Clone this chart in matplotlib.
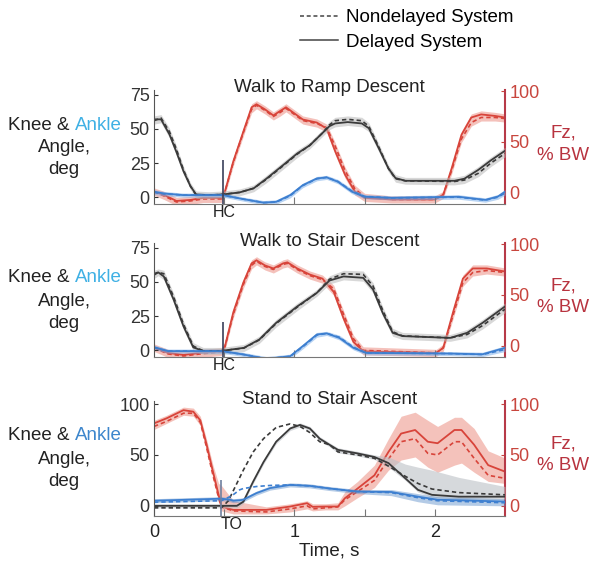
import matplotlib.pyplot as plt
import numpy as np

plt.rcParams['font.family'] = ['Liberation Sans', 'DejaVu Sans']

W, H = 604, 572

# ---- Walk to Ramp Descent ----
t_knee1 = [0, 0.05, 0.11, 0.16, 0.21, 0.26, 0.30, 0.39, 0.49, 0.61, 0.71, 0.80, 0.92, 1.02, 1.11,
           1.20, 1.25, 1.29, 1.38, 1.48, 1.53, 1.60, 1.67, 1.72, 1.79, 2.14, 2.21, 2.31, 2.40, 2.50]
knee1 = [57, 57, 46, 33, 19, 8, 2, 1.5, 2, 3.5, 6.5, 13.5, 23.5, 32, 38,
         47, 52, 54, 55, 54, 50.5, 36, 21, 14, 12, 12, 13.5, 20, 27, 34]
knee1_nd = [56, 58, 48, 35, 20, 8, 1.5, 1.5, 2, 3.5, 6.5, 13, 23, 31.5, 38,
            47, 53, 56, 57, 56, 52, 37, 21, 13.5, 12, 11.5, 12.5, 17.5, 25, 32]

t_ank1 = [0, 0.07, 0.21, 0.49, 0.64, 0.78, 0.87, 0.97, 1.06, 1.16, 1.23, 1.31, 1.41, 1.50, 1.69,
          2.17, 2.36, 2.45, 2.50]
ank1 = [4, 2.7, 1.5, 1.5, -1.5, -4, -3.4, 1.5, 8.8, 13.7, 14.5, 11.3, 4, 0.3, -0.5, 0.3, -2, 0.5, 4]
ank1_nd = [3.5, 2.5, 1.5, 1.5, -1.5, -4, -3.6, 1, 8.5, 13.5, 14.5, 11.5, 4.5, 0.5, -0.5, 0, -2.2, 0, 3]

t_fz1 = [0, 0.07, 0.16, 0.26, 0.35, 0.48, 0.505, 0.565, 0.636, 0.695, 0.73, 0.79, 0.85, 0.90, 0.94,
         0.99, 1.06, 1.16, 1.23, 1.29, 1.36, 1.43, 1.50, 1.69, 2.00, 2.06, 2.12, 2.19, 2.26, 2.33,
         2.43, 2.50]
fz1 = [1.3, -2, -8, -7, -5, -5, 1.3, 31, 60, 84, 87, 82, 76, 80.5, 84,
       79, 72, 69, 63, 41, 18, 1.3, -5, -6.5, -6.5, -2, 24, 57, 74, 77, 75.5, 74]
fz1_nd = [1, -3, -9, -8, -6, -6, 1, 30, 59, 82, 86, 81, 75, 79, 83,
          78, 71, 68, 64, 46, 22, 4, -4, -6.5, -6.5, -2, 22, 53, 69, 74, 74, 73]

# ---- Walk to Stair Descent ----
t_knee2 = [0, 0.03, 0.07, 0.14, 0.21, 0.28, 0.35, 0.48, 0.64, 0.75, 0.87, 1.02, 1.16, 1.25, 1.35,
           1.49, 1.56, 1.63, 1.70, 1.77, 2.11, 2.23, 2.34, 2.50]
knee2 = [56, 57, 54, 37, 17.5, 2, -0.5, -0.5, 1.7, 7.8, 20, 32, 42, 51, 54,
         53, 44.5, 27, 12.7, 10.3, 9, 12.7, 20, 32]
knee2_nd = [55, 57, 56, 39, 19, 3, -0.5, -0.5, 1.5, 7.5, 19.5, 31.5, 42, 52, 56,
            55.5, 47, 29, 13.5, 10.5, 9, 11.5, 18, 30]

t_ank2 = [0, 0.10, 0.48, 0.64, 0.80, 0.97, 1.06, 1.16, 1.23, 1.32, 1.42, 1.51, 2.11, 2.34, 2.50]
ank2 = [2.2, -0.7, -0.7, -3.2, -6.4, -4.4, 3, 11.5, 12.3, 9, 1.7, -2, -2.5, -3, 1.7]
ank2_nd = [2, -0.7, -0.7, -3.2, -6.2, -4.6, 2.5, 11, 12.3, 9.5, 2.2, -2, -2.5, -3.2, 0.5]

t_fz2 = [0, 0.10, 0.21, 0.33, 0.48, 0.505, 0.565, 0.636, 0.695, 0.73, 0.79, 0.85, 0.92, 0.95,
         1.02, 1.11, 1.20, 1.28, 1.35, 1.42, 1.49, 2.01, 2.06, 2.13, 2.20, 2.27, 2.37, 2.50]
fz2 = [-1.6, -7, -9, -7, -5.5, -0.7, 33, 62, 81, 84, 79, 76, 81, 82,
       76, 70, 66, 53, 27, 4, -5.5, -7, -2, 33, 66, 76, 76, 73]
fz2_nd = [-2, -8, -10, -8, -6, -1, 31, 60, 79, 83, 78, 75, 80, 81,
          75, 69, 65, 56, 31, 7, -4.5, -7, -2, 30, 62, 72, 74, 72]

# ---- Stand to Stair Ascent ----
t_knee3 = [0, 0.48, 0.53, 0.59, 0.636, 0.707, 0.78, 0.87, 0.97, 1.04, 1.11, 1.18, 1.25, 1.31,
           1.45, 1.57, 1.67, 1.79, 1.88, 1.98, 2.17, 2.50]
knee3 = [0, 0, 0, 0, 4, 24, 43, 63, 76, 79.5, 76, 66, 60, 55, 51.5, 48, 42, 27, 15.7, 10.8, 9, 9]
knee3_nd = [-2, -2, 5, 22, 35, 53, 66, 77, 80.5, 78, 72, 63, 60, 53, 50, 46.7, 39, 29, 22, 16.5, 13, 10.8]
knee3_lo = [-2, -2, -2, -2, 2, 22, 41, 61, 74, 77.5, 74, 64, 58, 52, 49, 45.5, 38, 25, 13.5, 8.5, 6.5, 6.5]
knee3_hi = [2, 2, 2, 2, 6, 26, 45, 65, 78, 81.5, 78, 68, 62, 57, 53.5, 50, 48, 41, 38, 35, 28, 19]

t_ank3 = [0, 0.48, 0.54, 0.565, 0.61, 0.636, 0.73, 0.826, 0.97, 1.11, 1.25, 1.45, 1.69, 1.88, 2.02, 2.50]
ank3 = [5, 7, 6, 5, 5.5, 6, 12.5, 17.4, 20.6, 19.6, 17, 14, 13.6, 9, 6, 4.2]
ank3_nd = [3.6, 5, 9, 11, 15.7, 17, 19, 20, 20.6, 19.6, 17, 14, 13, 8, 5, 3]
ank3_lo = [3, 5, 4, 3, 3.5, 4, 10.5, 15.4, 18.6, 17.6, 15, 12, 10, 4, 1, 0]
ank3_hi = [7, 9, 8, 7, 7.5, 8, 14.5, 19.4, 22.6, 21.6, 19, 16, 16, 12, 9, 7]

t_fz3 = [0, 0.09, 0.21, 0.28, 0.33, 0.375, 0.42, 0.46, 0.48, 0.565, 0.80, 0.97, 1.09, 1.13, 1.22,
         1.31, 1.36, 1.45, 1.57, 1.67, 1.76, 1.86, 1.95, 2.02, 2.14, 2.19, 2.28, 2.38, 2.50]
fz3 = [81, 86, 94, 92.5, 84, 60, 33.6, 10.8, -0.7, -4, -4, -0.7, 2.6, -1, -0.7,
       -0.7, 7.5, 17, 30, 53, 71, 74.5, 63, 61.5, 74.5, 74.5, 60, 40, 33.6]
fz3_nd = [78, 83, 91, 91, 82, 57, 30, 8, -1, -5, -6, -3, 0, -3, -2,
          -1, 6, 14, 25, 46, 63, 66, 51.6, 50, 63, 63, 46.7, 30, 27]
fz3_lo = [75, 81, 89, 88, 79, 53, 27, 3, -5, -8, -8, -6, -3, -5, -4,
          -4, 0, 8, 18, 35, 45, 48, 38, 33, 40, 42, 33, 24, 22]
fz3_hi = [84, 89, 97, 96, 88, 65, 40, 22, 20, 5, -1, 2, 5, 2, 2,
          3, 14, 24, 40, 66, 88, 92, 84, 78, 87, 87, 76, 54, 47]

titles = ['Walk to Ramp Descent', 'Walk to Stair Descent', 'Stand to Stair Ascent']
event_labels = ['HC', 'HC', 'TO']

KNEE = '#3a3a3a'
ANK = '#3d7fd0'
FZ = '#d8443a'
FZ_TXT = '#b8333f'


def fx(px):
    return px / W


def fy(py):
    return 1 - py / H


def plot_signal(ax, t, d, nd, color, band, w=2.0, lo=None, hi=None, alpha=0.55):
    t = np.array(t)
    d = np.array(d, dtype=float)
    nd = np.array(nd, dtype=float)
    if lo is None:
        lo = np.minimum(d, nd) - w
    if hi is None:
        hi = np.maximum(d, nd) + w
    ax.fill_between(t, lo, hi, color=band, alpha=alpha, lw=0)
    ax.plot(t, nd, color=color, lw=1.2, ls=(0, (2.6, 1.8)))
    ax.plot(t, d, color=color, lw=1.3)


fig = plt.figure(figsize=(W / 100, H / 100), dpi=100)

# axes boxes in pixels: (top, bottom)
boxes = [(90, 204), (243, 357), (401, 516)]
ylims_l = [(-5, 78.5), (-5, 78.5), (-10, 103)]
ylims_r = [(-11, 101), (-11, 101), (-10, 103)]

panels = [
    (t_knee1, knee1, knee1_nd, t_ank1, ank1, ank1_nd, t_fz1, fz1, fz1_nd),
    (t_knee2, knee2, knee2_nd, t_ank2, ank2, ank2_nd, t_fz2, fz2, fz2_nd),
    (t_knee3, knee3, knee3_nd, t_ank3, ank3, ank3_nd, t_fz3, fz3, fz3_nd),
]

for i, (top, bot) in enumerate(boxes):
    ax = fig.add_axes([fx(154), fy(bot), fx(505) - fx(154), fy(top) - fy(bot)])
    axr = ax.twinx()
    ax.set_zorder(axr.get_zorder() + 1)
    ax.patch.set_visible(False)

    tk, k, knd, ta, a, and_, tf, f, fnd = panels[i]
    if i < 2:
        plot_signal(axr, tf, f, fnd, FZ, '#ec8f84', w=3.5)
        plot_signal(ax, tk, k, knd, KNEE, '#b8b8b8', w=2.5)
        plot_signal(ax, ta, a, and_, ANK, '#7eb0ea', w=1.5)
        ax.vlines(0.49, -5, 27 if i == 0 else 21, color='#3a3f5a', lw=1.2)
    else:
        plot_signal(axr, tf, f, fnd, FZ, '#ee9a8e', lo=fz3_lo, hi=fz3_hi, alpha=0.6)
        plot_signal(ax, tk, k, knd, KNEE, '#bcc0c6', lo=knee3_lo, hi=knee3_hi, alpha=0.6)
        plot_signal(ax, ta, a, and_, ANK, '#5a8cc8', lo=ank3_lo, hi=ank3_hi, alpha=0.45)
        ax.vlines(0.48, -10, 25, color='#7080a0', lw=1.2)

    ax.set_xlim(0, 2.5)
    ax.set_ylim(*ylims_l[i])
    axr.set_ylim(*ylims_r[i])
    if i < 2:
        ax.set_yticks([0, 25, 50, 75])
    else:
        ax.set_yticks([0, 50, 100])
    axr.set_yticks([0, 50, 100])

    for a_ in (ax, axr):
        a_.spines['top'].set_visible(False)
    ax.spines['right'].set_visible(False)
    axr.spines['left'].set_visible(False)
    axr.spines['bottom'].set_visible(False)
    ax.spines['left'].set_color('#555555')
    ax.spines['bottom'].set_color('#777777')
    axr.spines['right'].set_color('#b73a48')
    axr.spines['right'].set_linewidth(1.5)

    ax.tick_params(axis='y', direction='in', length=3, labelsize=13, pad=3, colors='#333333')
    axr.tick_params(axis='y', direction='in', length=3, labelsize=13, pad=3, colors='#c8463e')
    ax.tick_params(axis='x', direction='in', length=5, labelsize=13, pad=6, colors='#777777',
                   labelcolor='#222222')

    if i < 2:
        ax.set_xticks([0.5, 1, 1.5, 2])
        ax.set_xticklabels([])
    else:
        ax.set_xticks([0, 0.5, 1, 1.5, 2])
        ax.set_xticklabels(['0', '', '1', '', '2'])

    ax.annotate(event_labels[i], xy=(0.5 if i < 2 else 0.55, 0), xycoords=('data', 'axes fraction'),
                xytext=(0, -1), textcoords='offset points', ha='center', va='top',
                fontsize=11.5, color='#222222')

    # titles and side labels
    fig.text(fx(329.5), fy(top - 2), titles[i], ha='center', va='center', fontsize=13.5, color='#222222')
    ly = top + 35
    fig.text(fx(69.5), fy(ly), 'Knee &', ha='right', va='center', fontsize=13.5, color='#222222')
    fig.text(fx(74.5), fy(ly), 'Ankle', ha='left', va='center', fontsize=13.5,
             color='#3fb0e4' if i < 2 else '#3d86cc')
    fig.text(fx(64), fy(ly + 23), 'Angle,', ha='center', va='center', fontsize=13.5, color='#222222')
    fig.text(fx(64), fy(ly + 45), 'deg', ha='center', va='center', fontsize=13.5, color='#222222')
    fig.text(fx(563), fy(ly + 8), 'Fz,', ha='center', va='center', fontsize=13.5, color=FZ_TXT)
    fig.text(fx(563), fy(ly + 30), '% BW', ha='center', va='center', fontsize=13.5, color=FZ_TXT)

fig.text(fx(329.5), fy(551), 'Time, s', ha='center', va='center', fontsize=13.5, color='#222222')

# legend
handles = [plt.Line2D([], [], color='#444444', lw=1.1, ls=(0, (2.6, 1.8))),
           plt.Line2D([], [], color='#444444', lw=1.1)]
fig.legend(handles, ['Nondelayed System', 'Delayed System'], loc='center left',
           bbox_to_anchor=(fx(300), fy(30)), frameon=False, fontsize=13.5,
           handlelength=2.0, handletextpad=0.45, labelspacing=0.38, borderpad=0,
           borderaxespad=0)

fig.savefig('out.png', dpi=100)
